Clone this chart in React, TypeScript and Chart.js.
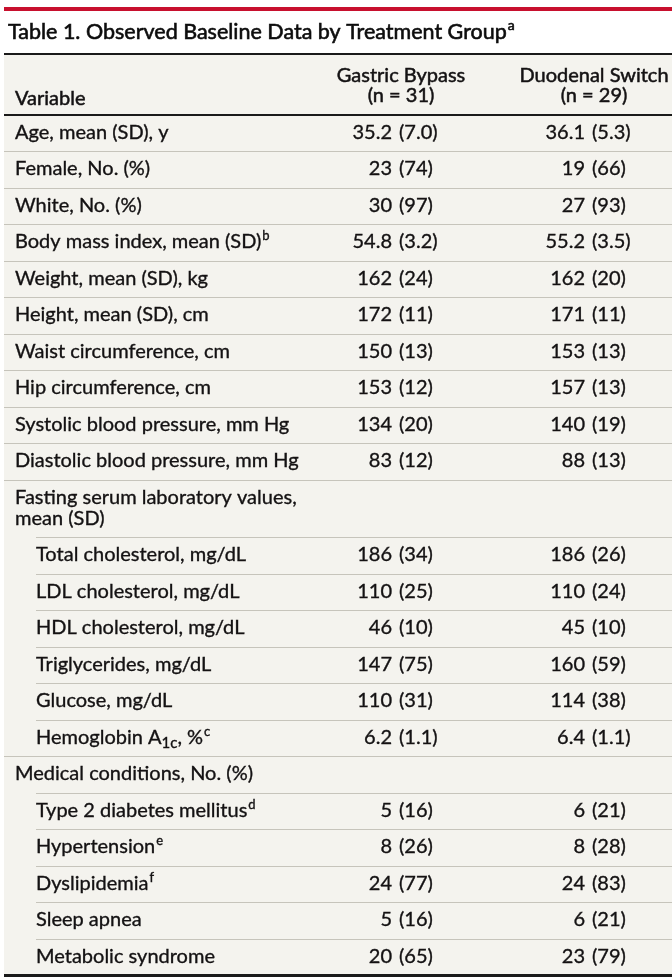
import { useEffect, useRef } from 'react';
import { Chart, registerables } from 'chart.js';

Chart.register(...registerables);

// ---------- Data ----------
const titleText = 'Table 1. Observed Baseline Data by Treatment Group^{a}';
const columnHeaders = ['Variable', 'Gastric Bypass\n(n = 31)', 'Duodenal Switch\n(n = 29)'];

const variables = [
  'Age, mean (SD), y',
  'Female, No. (%)',
  'White, No. (%)',
  'Body mass index, mean (SD)^{b}',
  'Weight, mean (SD), kg',
  'Height, mean (SD), cm',
  'Waist circumference, cm',
  'Hip circumference, cm',
  'Systolic blood pressure, mm Hg',
  'Diastolic blood pressure, mm Hg',
  'Fasting serum laboratory values,\nmean (SD)',
  'Total cholesterol, mg/dL',
  'LDL cholesterol, mg/dL',
  'HDL cholesterol, mg/dL',
  'Triglycerides, mg/dL',
  'Glucose, mg/dL',
  'Hemoglobin A_{1c}, %^{c}',
  'Medical conditions, No. (%)',
  'Type 2 diabetes mellitus^{d}',
  'Hypertension^{e}',
  'Dyslipidemia^{f}',
  'Sleep apnea',
  'Metabolic syndrome',
];

const indentLevels = [0, 0, 0, 0, 0, 0, 0, 0, 0, 0, 0, 1, 1, 1, 1, 1, 1, 0, 1, 1, 1, 1, 1];

const gastricBypass = [
  '35.2 (7.0)', '23 (74)', '30 (97)', '54.8 (3.2)', '162 (24)', '172 (11)', '150 (13)',
  '153 (12)', '134 (20)', '83 (12)', '', '186 (34)', '110 (25)', '46 (10)', '147 (75)',
  '110 (31)', '6.2 (1.1)', '', '5 (16)', '8 (26)', '24 (77)', '5 (16)', '20 (65)',
];

const duodenalSwitch = [
  '36.1 (5.3)', '19 (66)', '27 (93)', '55.2 (3.5)', '162 (20)', '171 (11)', '153 (13)',
  '157 (13)', '140 (19)', '88 (13)', '', '186 (26)', '110 (24)', '45 (10)', '160 (59)',
  '114 (38)', '6.4 (1.1)', '', '6 (21)', '8 (28)', '24 (83)', '6 (21)', '23 (79)',
];

// ---------- Style / layout ----------
const W = 672;
const H = 978;
const FONT_FAMILY = 'Lato, "Noto Sans", "DejaVu Sans", sans-serif';
const BODY_SIZE = 20;
const TITLE_SIZE = 21.5;
const TEXT_COLOR = '#141213';
const BG = '#f4f3ee';
const RULE = '#c6c4bb';
const RED = '#c8102e';

const TABLE_LEFT = 4;
const HEADER_TOP = 53;
const HEADER_BOTTOM = 115;
const ROW_H = 36.48;
const LINE_H = 21;
const FIRST_BASELINE = 24;
const TEXT_X = [15, 36];
const COL_PAREN_X = [399, 592];
const COL_GAP = 7;
const COL_CENTER = [401, 594];

type Seg = { text: string; kind: 'n' | 'sup' | 'sub' };

function parseRich(s: string): Seg[] {
  const parts = s.split(/(\^\{[^}]*\}|_\{[^}]*\})/).filter((p) => p.length > 0);
  return parts.map((p) => {
    if (p.startsWith('^{')) return { text: p.slice(2, -1), kind: 'sup' as const };
    if (p.startsWith('_{')) return { text: p.slice(2, -1), kind: 'sub' as const };
    return { text: p, kind: 'n' as const };
  });
}

function fillStroke(ctx: CanvasRenderingContext2D, t: string, x: number, y: number, sw: number) {
  ctx.fillText(t, x, y);
  if (sw > 0) {
    ctx.lineWidth = sw;
    ctx.strokeStyle = ctx.fillStyle as string;
    ctx.strokeText(t, x, y);
  }
}

function drawRich(
  ctx: CanvasRenderingContext2D,
  s: string,
  x: number,
  y: number,
  size: number,
  align: 'left' | 'right' | 'center' = 'left',
  sw = 0.35
) {
  const segs = parseRich(s);
  const sizeFor = (k: Seg['kind']) => (k === 'n' ? size : k === 'sup' ? Math.round(size * 0.66) : Math.round(size * 0.74));
  let total = 0;
  const widths: number[] = [];
  for (const seg of segs) {
    ctx.font = `${sizeFor(seg.kind)}px ${FONT_FAMILY}`;
    const w = ctx.measureText(seg.text).width + (seg.kind === 'sup' ? 1 : 0);
    widths.push(w);
    total += w;
  }
  let cx = align === 'left' ? x : align === 'right' ? x - total : x - total / 2;
  ctx.textAlign = 'left';
  ctx.textBaseline = 'alphabetic';
  segs.forEach((seg, i) => {
    ctx.font = `${sizeFor(seg.kind)}px ${FONT_FAMILY}`;
    const dy = seg.kind === 'sup' ? -size * 0.4 : seg.kind === 'sub' ? size * 0.22 : 0;
    fillStroke(ctx, seg.text, cx + (seg.kind === 'sup' ? 1 : 0), y + dy, sw);
    cx += widths[i];
  });
}

// row tops in value units (y scale maps value -> pixel)
const rowLines = variables.map((v) => v.split('\n').length);
const rowTops: number[] = [];
{
  let t = HEADER_BOTTOM;
  rowLines.forEach((n) => {
    rowTops.push(t);
    t += ROW_H + LINE_H * (n - 1);
  });
  rowTops.push(t);
}

const tablePlugin = {
  id: 'tablePlugin',
  beforeDatasetsDraw(chart: any) {
    const ctx: CanvasRenderingContext2D = chart.ctx;
    const xs = chart.scales.x;
    const ys = chart.scales.y;
    const px = (v: number) => xs.getPixelForValue(v);
    const py = (v: number) => ys.getPixelForValue(v);
    ctx.save();
    ctx.fillStyle = '#ffffff';
    ctx.fillRect(0, 0, W, H);
    const bottom = rowTops[rowTops.length - 1];
    ctx.fillStyle = BG;
    ctx.fillRect(px(TABLE_LEFT), py(HEADER_TOP), px(W) - px(TABLE_LEFT), py(bottom) - py(HEADER_TOP));
    ctx.fillStyle = RED;
    ctx.fillRect(px(TABLE_LEFT), py(7), px(W) - px(TABLE_LEFT), 4);
    ctx.fillStyle = '#0d0d0d';
    drawRich(ctx, titleText, px(8), py(39), TITLE_SIZE, 'left', 0.6);
    ctx.fillStyle = '#1a1a1a';
    ctx.fillRect(px(TABLE_LEFT), py(HEADER_TOP), px(W) - px(TABLE_LEFT), 2);
    ctx.fillRect(px(TABLE_LEFT), py(HEADER_BOTTOM) - 1, px(W) - px(TABLE_LEFT), 2);
    ctx.fillStyle = RULE;
    for (let j = 1; j < variables.length; j++) {
      const left = indentLevels[j] ? TEXT_X[1] : TABLE_LEFT;
      ctx.fillRect(px(left), Math.round(py(rowTops[j])), px(W) - px(left), 1);
    }
    ctx.fillStyle = '#1a1a1a';
    ctx.fillRect(px(TABLE_LEFT), Math.round(py(bottom)) - 1, px(W) - px(TABLE_LEFT), 3);
    ctx.fillStyle = TEXT_COLOR;
    drawRich(ctx, columnHeaders[0], px(TEXT_X[0]), py(105), BODY_SIZE, 'left', 0.5);
    [1, 2].forEach((c) => {
      const lines = columnHeaders[c].split('\n');
      lines.forEach((ln, k) => {
        drawRich(ctx, ln, px(COL_CENTER[c - 1]), py(82 + k * 20), BODY_SIZE, 'center', 0.5);
      });
    });
    ctx.restore();
  },
  afterDatasetsDraw(chart: any) {
    const ctx: CanvasRenderingContext2D = chart.ctx;
    ctx.save();
    ctx.fillStyle = TEXT_COLOR;
    chart.data.datasets.forEach((ds: any, di: number) => {
      const meta = chart.getDatasetMeta(di);
      meta.data.forEach((el: any, j: number) => {
        const text: string = ds.texts[j];
        if (!text) return;
        const baseY = el.y + FIRST_BASELINE;
        if (di === 0) {
          text.split('\n').forEach((ln, k) => {
            drawRich(ctx, ln, el.x, baseY + k * LINE_H, BODY_SIZE, 'left');
          });
        } else {
          const idx = text.indexOf(' (');
          const main = idx >= 0 ? text.slice(0, idx) : text;
          const paren = idx >= 0 ? text.slice(idx + 1) : '';
          ctx.font = `${BODY_SIZE}px ${FONT_FAMILY}`;
          ctx.textBaseline = 'alphabetic';
          ctx.textAlign = 'right';
          fillStroke(ctx, main, el.x - COL_GAP, baseY, 0.35);
          ctx.textAlign = 'left';
          fillStroke(ctx, paren, el.x, baseY, 0.35);
        }
      });
    });
    ctx.restore();
  },
};

export default function App() {
  const ref = useRef<HTMLCanvasElement | null>(null);
  useEffect(() => {
    document.body.style.margin = '0';
    const canvas = ref.current;
    if (!canvas) return;
    const chart = new Chart(canvas, {
      type: 'scatter',
      data: {
        datasets: [
          {
            label: 'Variable',
            data: variables.map((_, j) => ({ x: TEXT_X[indentLevels[j]], y: rowTops[j] })),
            texts: variables,
            pointRadius: 0,
          } as any,
          {
            label: 'Gastric Bypass',
            data: gastricBypass.map((_, j) => ({ x: COL_PAREN_X[0], y: rowTops[j] })),
            texts: gastricBypass,
            pointRadius: 0,
          } as any,
          {
            label: 'Duodenal Switch',
            data: duodenalSwitch.map((_, j) => ({ x: COL_PAREN_X[1], y: rowTops[j] })),
            texts: duodenalSwitch,
            pointRadius: 0,
          } as any,
        ],
      },
      options: {
        animation: false,
        responsive: false,
        maintainAspectRatio: false,
        events: [],
        layout: { padding: 0 },
        plugins: { legend: { display: false }, tooltip: { enabled: false } },
        scales: {
          x: { type: 'linear', display: false, min: 0, max: W },
          y: { type: 'linear', display: false, min: 0, max: H, reverse: true },
        },
      },
      plugins: [tablePlugin],
    });
    return () => chart.destroy();
  }, []);
  return <canvas ref={ref} width={W} height={H} style={{ display: 'block' }} />;
}
